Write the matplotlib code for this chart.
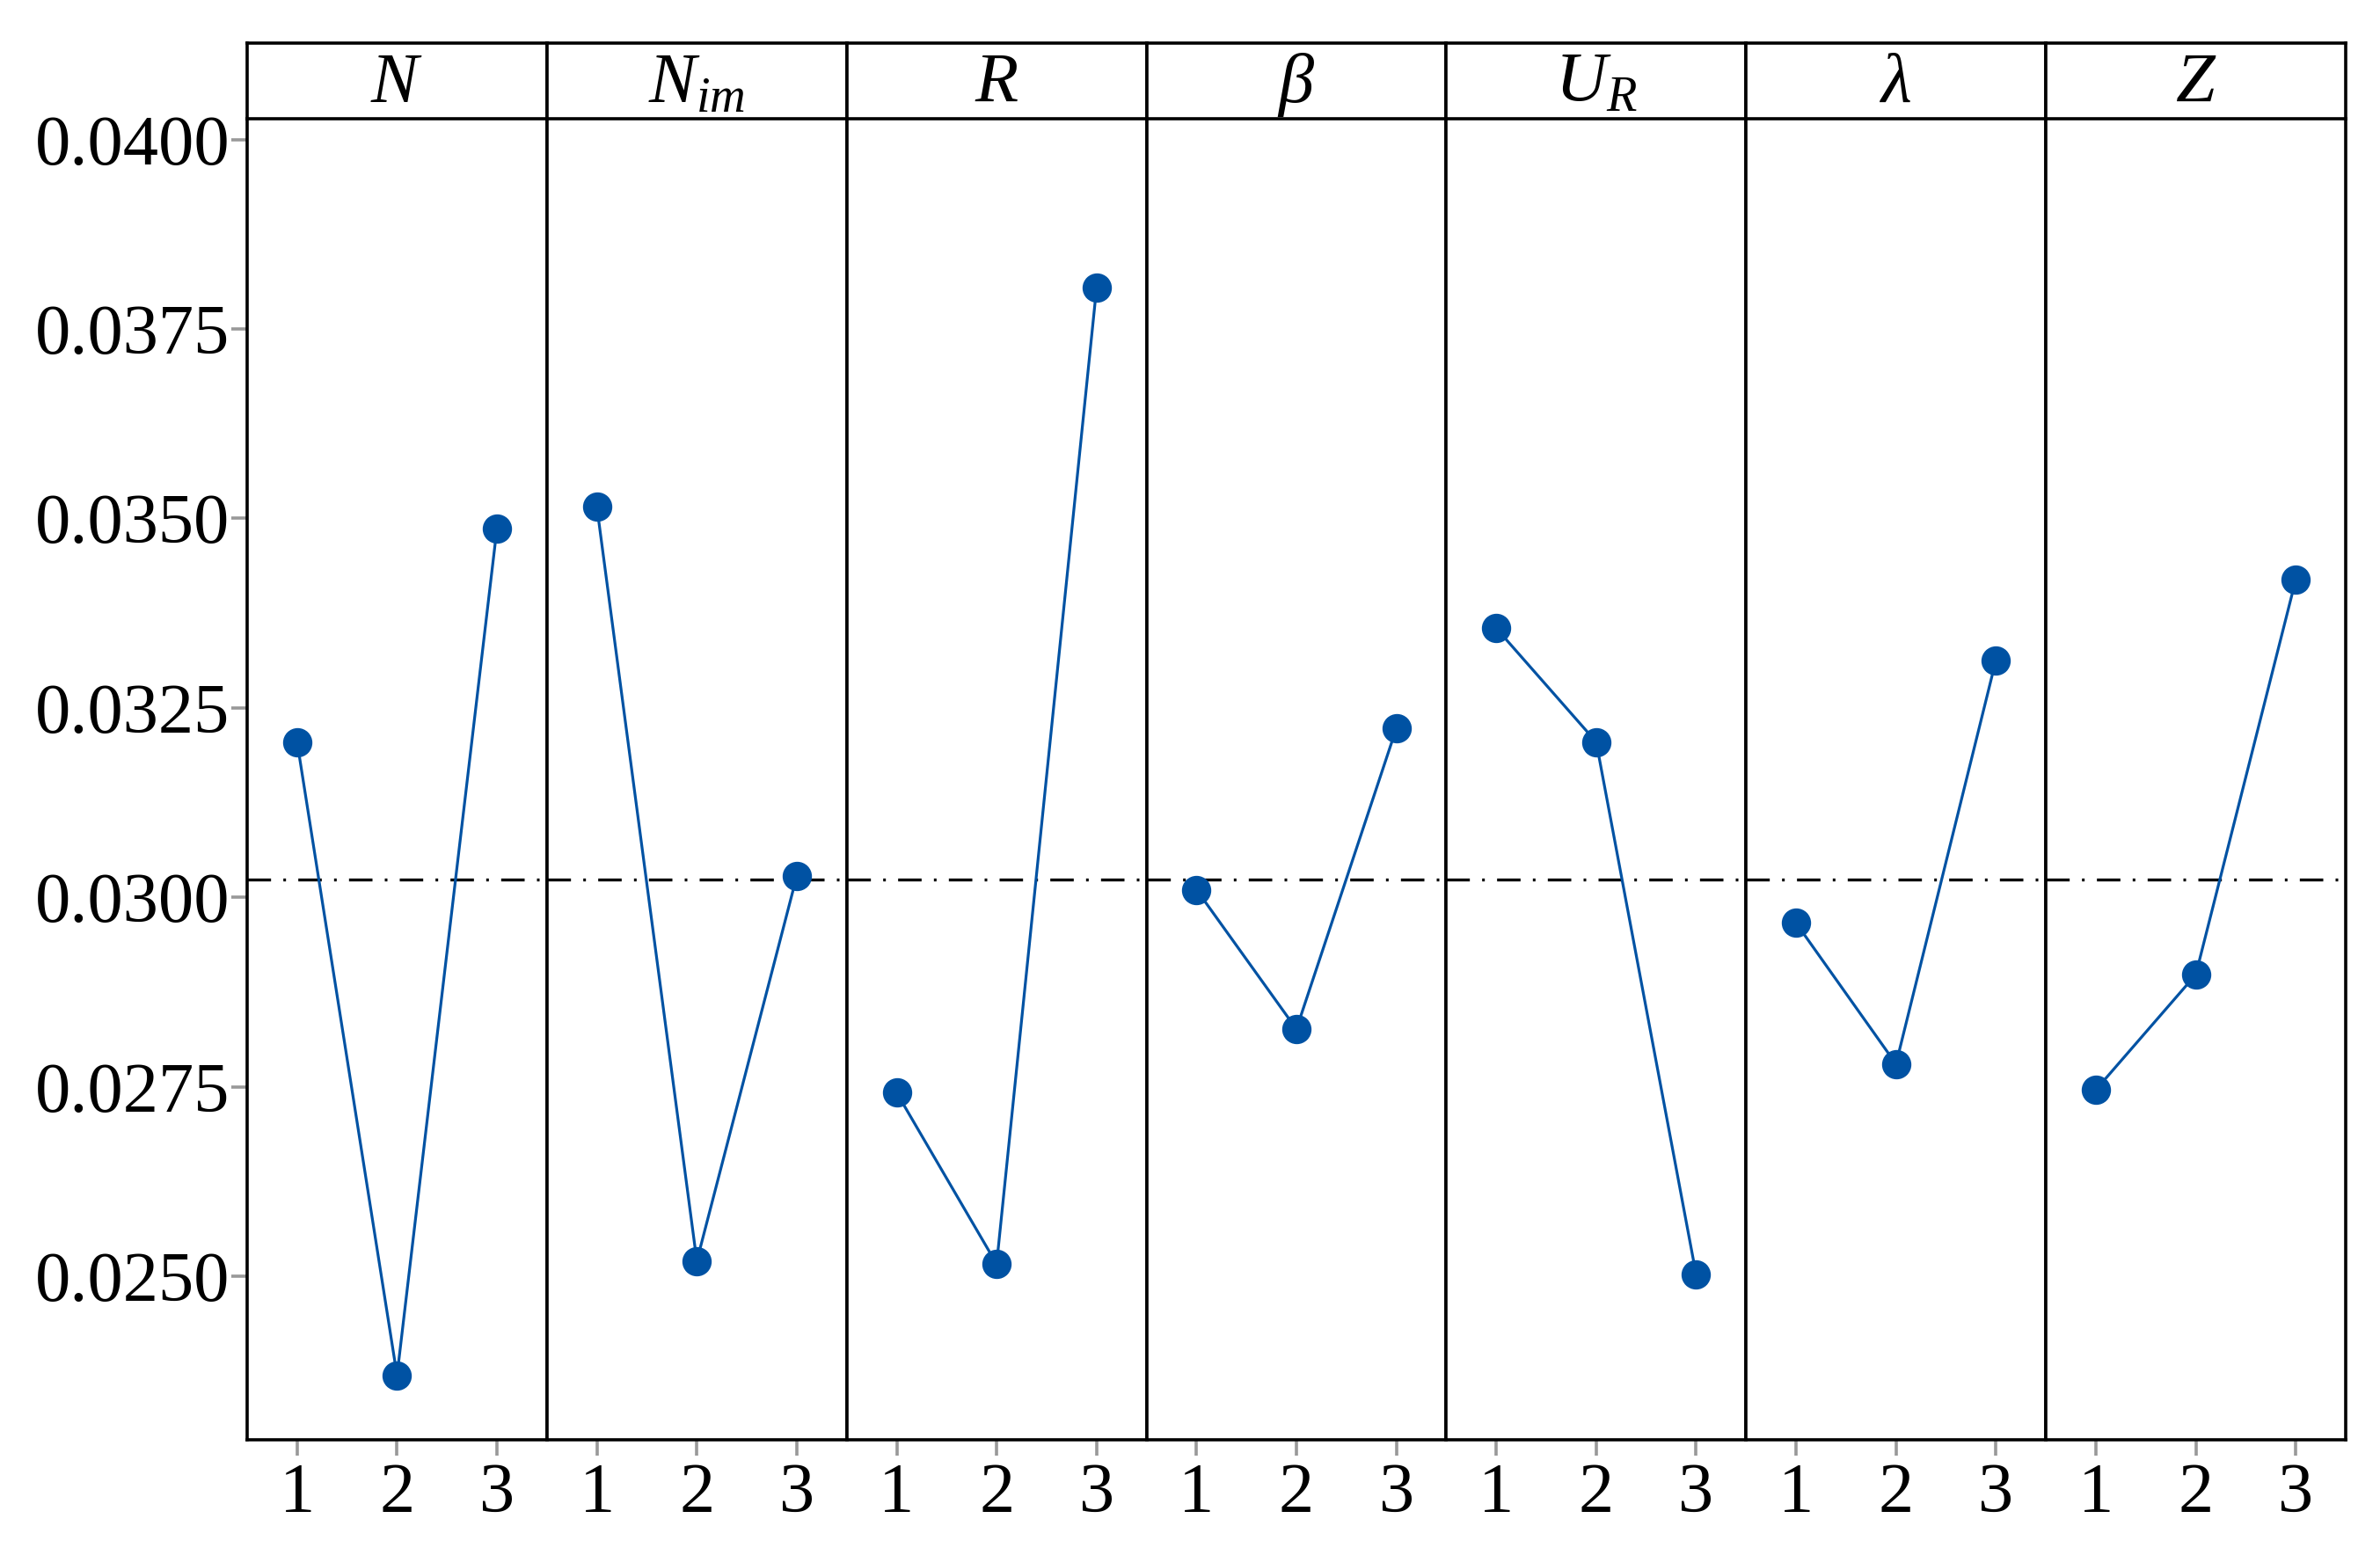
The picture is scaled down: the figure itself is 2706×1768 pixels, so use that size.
import matplotlib
matplotlib.use("Agg")
import matplotlib.pyplot as plt

plt.rcParams['font.family'] = ['Liberation Serif', 'DejaVu Serif']
plt.rcParams['mathtext.fontset'] = 'custom'
plt.rcParams['mathtext.rm'] = 'Liberation Serif'
plt.rcParams['mathtext.it'] = 'Liberation Serif:italic'

# factor names and level means
factors = [r'$N$', r'$N_{im}$', r'$R$', r'$\beta$', r'$U_R$', r'$\lambda$', r'$Z$']
levels = [1, 2, 3]
means_N = [0.03205, 0.02369, 0.03487]
means_Nim = [0.03515, 0.02520, 0.03028]
means_R = [0.02742, 0.02516, 0.03804]
means_beta = [0.03010, 0.02826, 0.03223]
means_UR = [0.03355, 0.03205, 0.02502]
means_lam = [0.02966, 0.02780, 0.03313]
means_Z = [0.02746, 0.02898, 0.03419]
grand_mean = 0.03024
yticks = [0.0250, 0.0275, 0.0300, 0.0325, 0.0350, 0.0375, 0.0400]

all_means = [means_N, means_Nim, means_R, means_beta, means_UR, means_lam, means_Z]

W, H = 2706, 1768
fig = plt.figure(figsize=(W / 100, H / 100), dpi=100)

left, right = 281 / W, 2667 / W
bottom, top = 1 - 1637 / H, 1 - 135 / H
head_top = 1 - 49 / H
pw = (right - left) / len(factors)

blue = '#0052A3'
lw_spine = 2.6
tick_col = '#999999'
fs = 58

for i, (name, vals) in enumerate(zip(factors, all_means)):
    ax = fig.add_axes([left + i * pw, bottom, pw, top - bottom])
    ax.plot(levels, vals, color=blue, lw=2.3, marker='o', ms=23,
            mfc=blue, mec=blue, zorder=3)
    ax.axhline(grand_mean, color='black', lw=2.4,
               linestyle=(0, (8, 4.2, 0.9, 4.2)), zorder=2)
    ax.set_xlim(0.5, 3.5)
    ax.set_ylim(0.022841, 0.040274)
    ax.set_xticks(levels)
    ax.set_xticklabels([str(l) for l in levels])
    ax.set_yticks(yticks)
    if i == 0:
        ax.set_yticklabels(['%.4f' % t for t in yticks])
        ax.tick_params(axis='y', length=13, width=2.6, color=tick_col,
                       labelsize=fs, pad=1)
    else:
        ax.tick_params(axis='y', left=False, labelleft=False)
    ax.tick_params(axis='x', length=13, width=2.6, color=tick_col,
                   labelsize=fs, pad=6)
    for s in ax.spines.values():
        s.set_linewidth(lw_spine)
    ax.spines['top'].set_visible(False)

    # strip header
    hx = fig.add_axes([left + i * pw, top, pw, head_top - top])
    hx.set_xticks([])
    hx.set_yticks([])
    for s in hx.spines.values():
        s.set_linewidth(lw_spine)
    hx.text(0.5, 0.45, name, ha='center', va='center', fontsize=fs,
            transform=hx.transAxes)

fig.savefig('out.png', dpi=100)
